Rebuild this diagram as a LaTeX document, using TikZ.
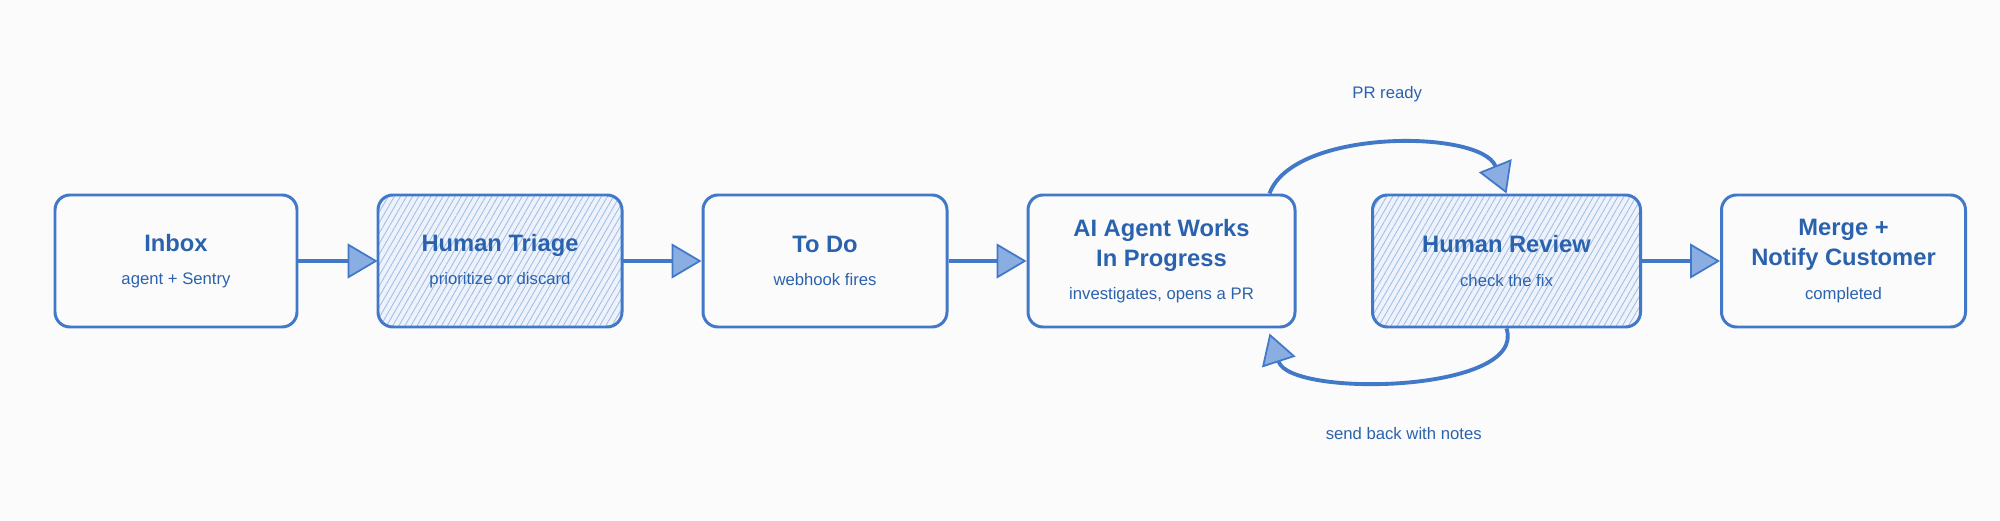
\documentclass[tikz,border=0pt]{standalone}
\usepackage{fontspec}
\setmainfont{Liberation Sans}
\usetikzlibrary{arrows.meta,patterns.meta}

\definecolor{pen}{HTML}{4178C8}
\definecolor{ink}{HTML}{2B62AE}
\definecolor{hatchbg}{HTML}{EEF3FB}
\definecolor{hatchline}{HTML}{A3BEE8}
\definecolor{headfill}{HTML}{8AAEE2}
\definecolor{paper}{HTML}{FBFBFB}

\newcommand{\stagenote}[1]{{\mdseries\fontsize{9.5}{12}\selectfont #1}}

\tikzset{
  stage/.style={draw=pen, line width=1.7pt, rounded corners=0.3cm, minimum height=2.64cm,
    minimum width=4.88cm, align=center, text=ink, font=\fontsize{13.5}{17}\selectfont\bfseries},
  human/.style={stage, preaction={fill=hatchbg},
    pattern={Lines[angle=60,distance=3pt,line width=0.5pt]}, pattern color=hatchline},
  flow/.style={draw=pen, line width=2pt,
    -{Triangle[length=0.6cm,width=0.7cm,fill=headfill,line width=1pt]}},
  roundtrip/.style={flow, line width=2.2pt},
  note/.style={text=ink, font=\fontsize{9.5}{12}\selectfont},
}

\begin{document}
\begin{tikzpicture}
\fill[paper] (0,0) rectangle (40,10.42);
\useasboundingbox (0,0) rectangle (40,10.42);

\node (inbox) [stage, minimum width=4.84cm] at (3.52,5.2) {Inbox\\[2pt]\stagenote{agent + Sentry}};
\node (triage) [human, right of=inbox, node distance=6.48cm] {Human Triage\\[2pt]\stagenote{prioritize or discard}};
\node (todo) [stage, right of=triage, node distance=6.5cm] {To Do\\[2pt]\stagenote{webhook fires}};
\node (agent) [stage, right of=todo, node distance=6.73cm, minimum width=5.34cm] {AI Agent Works\\In Progress\\[2pt]\stagenote{investigates, opens a PR}};
\node (review) [human, right of=agent, node distance=6.9cm, minimum width=5.36cm] {Human Review\\[2pt]\stagenote{check the fix}};
\node (merge) [stage, right of=review, node distance=6.74cm] {Merge +\\Notify Customer\\[2pt]\stagenote{completed}};

\draw[flow] (inbox) -- (triage);
\draw[flow] (triage) -- (todo);
\draw[flow] (todo) -- (agent);
\draw[flow] (review) -- (merge);

% review loop
\draw[roundtrip] (agent.32) to[out=70, in=112, looseness=0.75]
  node[note, above=0.7cm] {PR ready} (review.north);
\draw[roundtrip] (review.south) to[out=-72, in=-72, looseness=0.73]
  node[note, below=0.8cm] {send back with notes} ([yshift=-1mm]agent.-32);
\end{tikzpicture}
\end{document}
